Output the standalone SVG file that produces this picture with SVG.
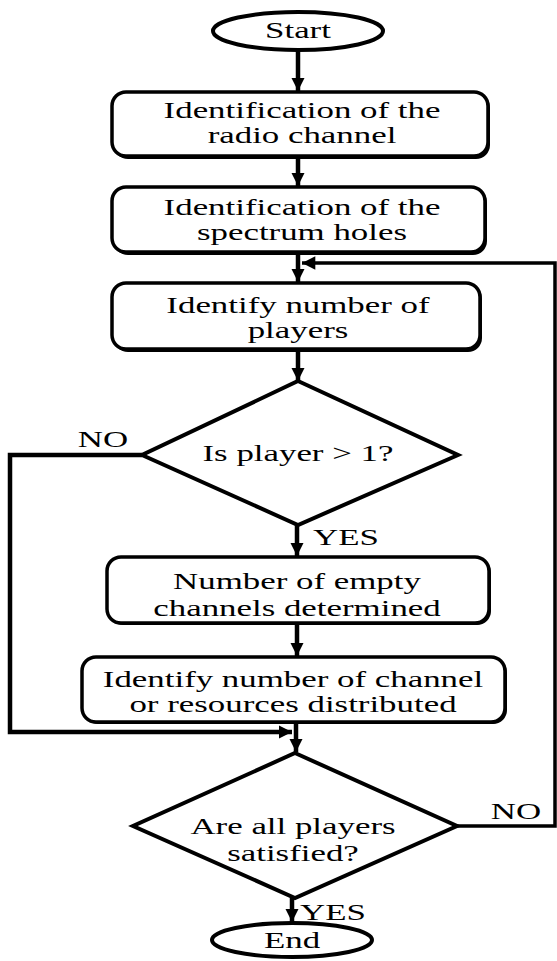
<svg xmlns="http://www.w3.org/2000/svg" width="557" height="961" viewBox="0 0 557 961">
<style>
.t{font-family:"Liberation Serif","Times New Roman",serif;font-size:22.5px;fill:#000;text-anchor:middle}
.box{fill:#fff;stroke:#000;stroke-width:3.5}
.sh{fill:#000}
.ln{fill:none;stroke:#000;stroke-width:4.5}
.ln3{fill:none;stroke:#000;stroke-width:3.5}
.shape{fill:#fff;stroke:#000;stroke-width:4}
</style>
<defs>
<marker id="ah" viewBox="0 0 10 10" refX="10" refY="5" markerWidth="3" markerHeight="3" orient="auto" markerUnits="strokeWidth">
<path d="M0,0 L10,5 L0,10 z" fill="#000"/>
</marker>
<marker id="ah2" viewBox="0 0 10 10" refX="10" refY="5" markerWidth="4" markerHeight="3.8" orient="auto" markerUnits="strokeWidth">
<path d="M0,0 L10,5 L0,10 z" fill="#000"/>
</marker>
</defs>
<rect width="557" height="961" fill="#fff"/>
<g id="connectors">
<line class="ln" x1="298" y1="50" x2="298" y2="91" marker-end="url(#ah)"/>
<line class="ln" x1="298" y1="158" x2="298" y2="186" marker-end="url(#ah)"/>
<line class="ln" x1="298" y1="254" x2="298" y2="282" marker-end="url(#ah)"/>
<line class="ln" x1="298" y1="351" x2="298" y2="381" marker-end="url(#ah)"/>
<line class="ln" x1="297" y1="525" x2="297" y2="556" marker-end="url(#ah)"/>
<line class="ln" x1="297" y1="625" x2="297" y2="656" marker-end="url(#ah)"/>
<line class="ln" x1="296" y1="724" x2="296" y2="752" marker-end="url(#ah)"/>
<line class="ln" x1="292" y1="898" x2="292" y2="922" marker-end="url(#ah)"/>
<polyline class="ln" points="142,455 10,455 10,732 292,732" marker-end="url(#ah)"/>
<polyline class="ln3" points="457,826 555,826 555,263 302,263" marker-end="url(#ah2)"/>
<text class="t" x="103" y="447" transform="matrix(1.55 0 0 1 -56.65 0)">NO</text>
<text class="t" x="516" y="819" transform="matrix(1.55 0 0 1 -283.8 0)">NO</text>
<text class="t" x="346" y="545" transform="matrix(1.55 0 0 1 -190.3 0)">YES</text>
<text class="t" x="333" y="920" transform="matrix(1.55 0 0 1 -183.15 0)">YES</text>
</g>
<g id="start">
<ellipse class="shape" cx="298" cy="31" rx="85" ry="19"/>
<text class="t" x="298" y="38" transform="matrix(1.55 0 0 1 -163.9 0)">Start</text>
</g>
<g id="box1">
<rect class="sh" x="114" y="94" width="376" height="65" rx="14"/>
<rect class="box" x="112" y="92" width="376" height="64" rx="14"/>
<text class="t" x="302" y="118" transform="matrix(1.55 0 0 1 -166.1 0)">Identification of the</text>
<text class="t" x="302" y="143" transform="matrix(1.55 0 0 1 -166.1 0)">radio channel</text>
</g>
<g id="box2">
<rect class="sh" x="114" y="189" width="373" height="66" rx="14"/>
<rect class="box" x="112" y="187" width="373" height="65" rx="14"/>
<text class="t" x="302" y="215" transform="matrix(1.55 0 0 1 -166.1 0)">Identification of the</text>
<text class="t" x="302" y="240" transform="matrix(1.55 0 0 1 -166.1 0)">spectrum holes</text>
</g>
<g id="box3">
<rect class="sh" x="114" y="285" width="368" height="67" rx="14"/>
<rect class="box" x="112" y="283" width="368" height="66" rx="14"/>
<text class="t" x="298" y="313" transform="matrix(1.55 0 0 1 -163.9 0)">Identify number of</text>
<text class="t" x="298" y="338" transform="matrix(1.55 0 0 1 -163.9 0)">players</text>
</g>
<g id="dec1">
<polygon class="shape" points="298,381 458,455 298,525 142,455"/>
<text class="t" x="298" y="461" transform="matrix(1.55 0 0 1 -163.9 0)">Is player &gt; 1?</text>
</g>
<g id="box4">
<rect class="sh" x="109" y="559" width="382" height="66" rx="14"/>
<rect class="box" x="107" y="557" width="382" height="66" rx="14"/>
<text class="t" x="297" y="589" transform="matrix(1.55 0 0 1 -163.35 0)">Number of empty</text>
<text class="t" x="297" y="616" transform="matrix(1.55 0 0 1 -163.35 0)">channels determined</text>
</g>
<g id="box5">
<rect class="sh" x="84" y="659" width="423" height="65" rx="14"/>
<rect class="box" x="82" y="657" width="423" height="65" rx="14"/>
<text class="t" x="293" y="687" transform="matrix(1.55 0 0 1 -161.15 0)">Identify number of channel</text>
<text class="t" x="293" y="712" transform="matrix(1.55 0 0 1 -161.15 0)">or resources distributed</text>
</g>
<g id="dec2">
<polygon class="shape" points="295,753 457,826 295,898 133,826"/>
<text class="t" x="293" y="834" transform="matrix(1.55 0 0 1 -161.15 0)">Are all players</text>
<text class="t" x="293" y="861" transform="matrix(1.55 0 0 1 -161.15 0)">satisfied?</text>
</g>
<g id="end">
<ellipse class="shape" cx="292" cy="940" rx="80" ry="17"/>
<text class="t" x="292" y="948" transform="matrix(1.55 0 0 1 -160.6 0)">End</text>
</g>
</svg>
